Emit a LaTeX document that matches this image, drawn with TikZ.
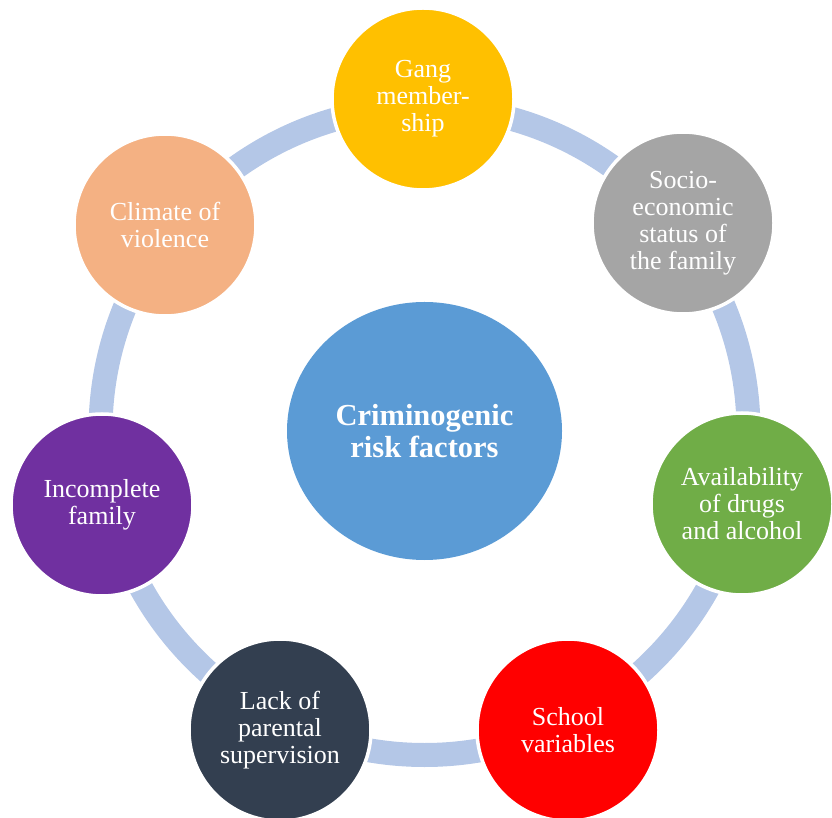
\documentclass[tikz,border=0pt]{standalone}
\usepackage{fontspec}
\setmainfont{Liberation Serif}
\usepackage{tikz}
\usetikzlibrary{shapes.geometric}

\definecolor{ringblue}{HTML}{B4C7E7}
\definecolor{hubblue}{HTML}{5B9BD5}
\definecolor{gangcol}{HTML}{FFC000}
\definecolor{sociocol}{HTML}{A5A5A5}
\definecolor{drugcol}{HTML}{70AD47}
\definecolor{schoolcol}{HTML}{FF0000}
\definecolor{lackcol}{HTML}{333F50}
\definecolor{familycol}{HTML}{7030A0}
\definecolor{violcol}{HTML}{F4B183}

\begin{document}
\begin{tikzpicture}[x=1pt,y=1pt,
  factor/.style={circle, draw=white, line width=3.5pt, minimum size=182pt, inner sep=0pt,
    align=center, text=white, font=\fontsize{26}{27}\selectfont},
  hub/.style={ellipse, fill=hubblue, minimum width=275pt, minimum height=258pt, inner sep=0pt,
    align=center, text=white, font=\fontsize{30.5}{32}\selectfont\bfseries},
  ring/.style={draw=ringblue, line width=24pt}]
\useasboundingbox (0,0) rectangle (832,817);

\coordinate (o) at (424.5,386);
\draw[ring] (o) circle [radius=324pt];

\node[hub] (risk) at (o) {Criminogenic\\risk factors};

\node[factor, fill=gangcol]   (f_gang)   at (423,718) {Gang\\member-\\ship};
\node[factor, fill=sociocol]  (f_socio)  at (683,594) {Socio-\\economic\\status of\\the family};
\node[factor, fill=drugcol]   (f_drugs)  at (742,313) {Availability\\of drugs\\and alcohol};
\node[factor, fill=schoolcol] (f_school) at (568,87)  {School\\variables};
\node[factor, fill=lackcol]   (f_lack)   at (280,87)  {Lack of\\parental\\supervision};
\node[factor, fill=familycol] (f_family) at (102,312) {Incomplete\\family};
\node[factor, fill=violcol]   (f_viol)   at (165,592) {Climate of\\violence};
\end{tikzpicture}
\end{document}
